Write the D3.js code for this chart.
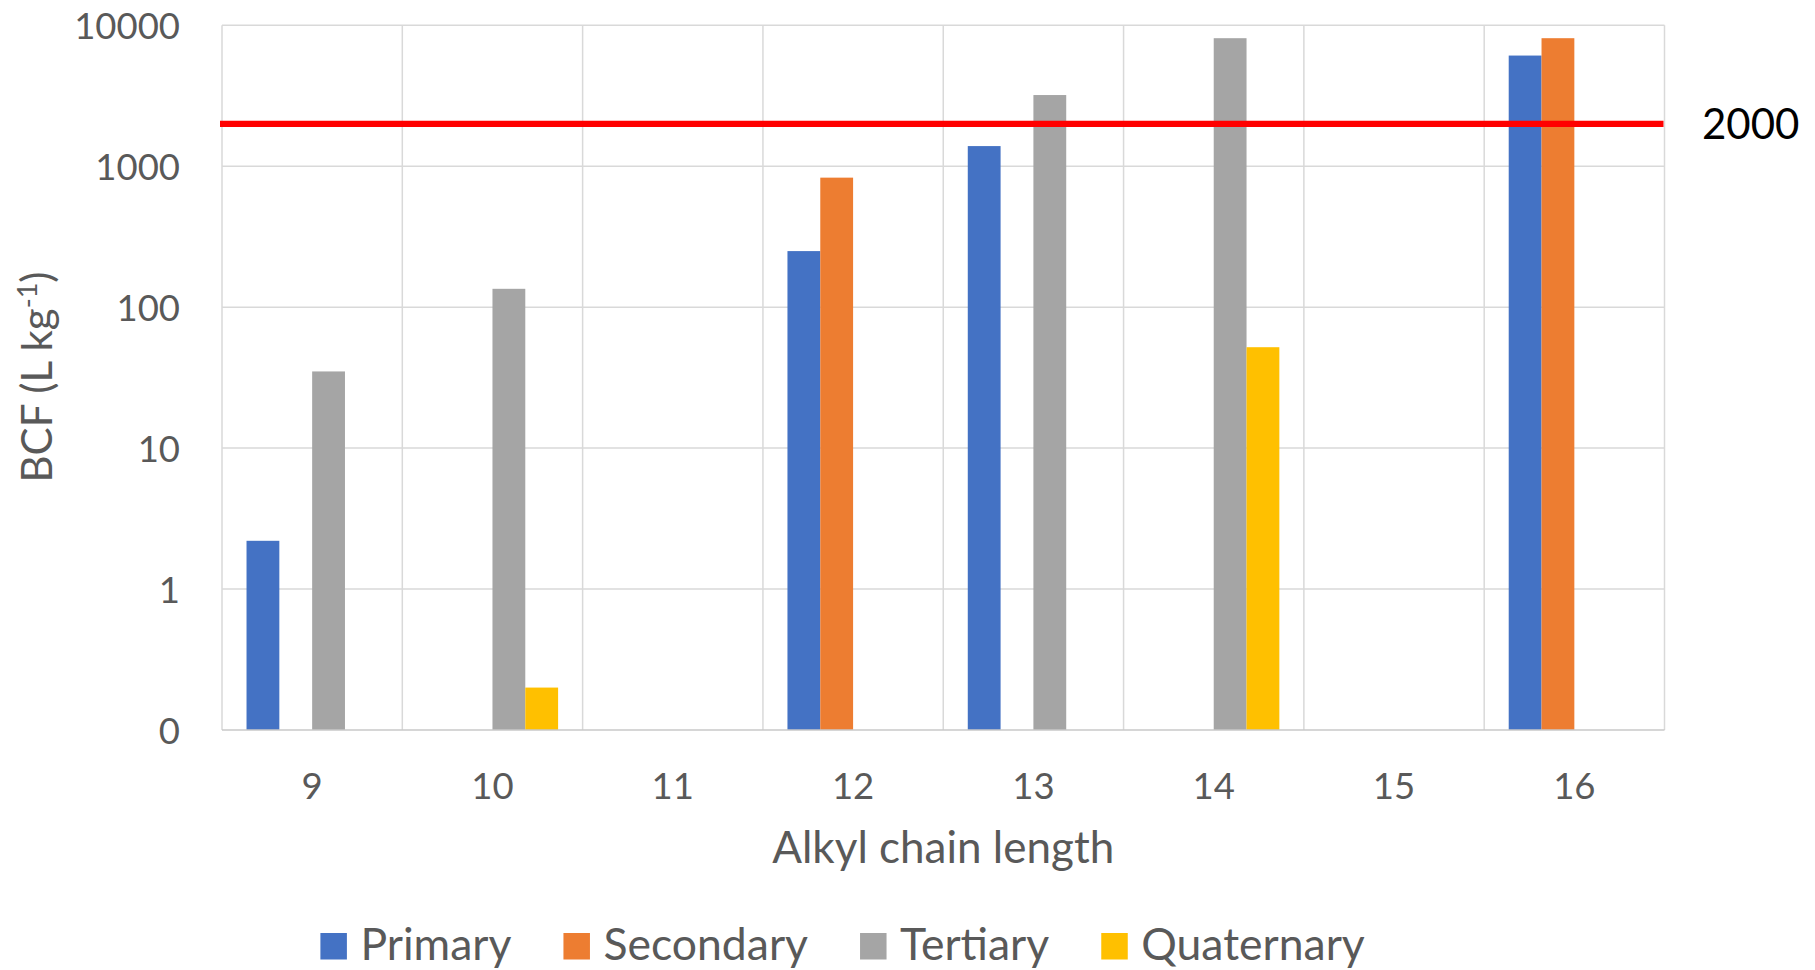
<!DOCTYPE html>
<html>
<head>
<meta charset="utf-8">
<script src="https://cdn.jsdelivr.net/npm/d3@7"></script>
<style>
  html, body { margin: 0; padding: 0; background: #ffffff; }
  svg { display: block; font-family: Lato, "Open Sans", sans-serif; }
</style>
</head>
<body>
<svg id="chart" width="1815" height="970"></svg>
<script>
// Alkyl chain length categories
const categories = ["9", "10", "11", "12", "13", "14", "15", "16"];

// Amine classes and their colours
const seriesNames = ["Primary", "Secondary", "Tertiary", "Quaternary"];
const seriesColors = ["#4472C4", "#ED7D31", "#A5A5A5", "#FFC000"];

// BCF values (L kg-1) per chain length; null = no data
const primary    = [2.2, null, null, 250, 1390, null, null, 6100];
const secondary  = [null, null, null, 830, null, null, null, 8100];
const tertiary   = [35, 135, null, null, 3200, 8100, null, null];
const quaternary = [null, 0.2, null, null, null, 52, null, null];

// Log axis ticks (the bottom of the axis is shown as "0")
const yTickValues = [0.1, 1, 10, 100, 1000, 10000];
const yTickLabels = ["0", "1", "10", "100", "1000", "10000"];

// Bioaccumulation threshold
const threshold = 2000;
const thresholdLabel = "2000";

const xTitle = "Alkyl chain length";

const seriesValues = [primary, secondary, tertiary, quaternary];
const rows = [];
categories.forEach((c, i) => {
  seriesNames.forEach((s, j) => {
    const v = seriesValues[j][i];
    if (v != null) rows.push({ cat: c, series: s, value: v, color: seriesColors[j] });
  });
});

const svg = d3.select("#chart");
const plot = { left: 222, right: 1664.5, top: 25.3, bottom: 730 };
const textColor = "#595959";

const x0 = d3.scaleBand().domain(categories).range([plot.left, plot.right]).padding(0);
const bw = x0.bandwidth();
const x1 = d3.scaleBand().domain(seriesNames).range([bw * 0.136, bw * 0.864]).padding(0);

const y = d3.scaleLog().domain([yTickValues[0], yTickValues[yTickValues.length - 1]])
  .range([plot.bottom, plot.top]);

// Horizontal gridlines
svg.append("g")
  .selectAll("line")
  .data(yTickValues.slice(1))
  .join("line")
  .attr("x1", plot.left).attr("x2", plot.right)
  .attr("y1", d => y(d)).attr("y2", d => y(d))
  .attr("stroke", "#D9D9D9").attr("stroke-width", 1.5);

// Vertical gridlines at category boundaries
const bounds = categories.map(c => x0(c)).concat([x0(categories[categories.length - 1]) + bw]);
svg.append("g")
  .selectAll("line")
  .data(bounds)
  .join("line")
  .attr("x1", d => d).attr("x2", d => d)
  .attr("y1", plot.top).attr("y2", plot.bottom)
  .attr("stroke", "#D9D9D9").attr("stroke-width", 1.5);

// Bars
svg.append("g")
  .selectAll("rect")
  .data(rows)
  .join("rect")
  .attr("x", d => x0(d.cat) + x1(d.series))
  .attr("width", x1.bandwidth())
  .attr("y", d => y(d.value))
  .attr("height", d => y(yTickValues[0]) - y(d.value))
  .attr("fill", d => d.color);

// Category axis line
svg.append("line")
  .attr("x1", plot.left).attr("x2", plot.right)
  .attr("y1", y(yTickValues[0])).attr("y2", y(yTickValues[0]))
  .attr("stroke", "#C8C8C8").attr("stroke-width", 1.5);

// Y axis labels
const yAxis = svg.append("g")
  .attr("transform", `translate(${plot.left},0)`)
  .call(d3.axisLeft(y).tickValues(yTickValues)
    .tickFormat((d, i) => yTickLabels[i]).tickSize(0).tickPadding(42));
yAxis.select(".domain").remove();
yAxis.selectAll("text")
  .attr("fill", textColor)
  .attr("font-family", "Lato")
  .attr("font-size", 36.5)
  .attr("dy", "0.36em");

// X axis labels
const xAxis = svg.append("g")
  .attr("transform", `translate(0,${plot.bottom})`)
  .call(d3.axisBottom(x0).tickSize(0));
xAxis.select(".domain").remove();
xAxis.selectAll("text")
  .attr("fill", textColor)
  .attr("font-family", "Lato")
  .attr("font-size", 36.5)
  .attr("y", 69)
  .attr("dy", 0);

// Axis titles
svg.append("text")
  .attr("x", (plot.left + plot.right) / 2)
  .attr("y", 863)
  .attr("text-anchor", "middle")
  .attr("fill", textColor)
  .attr("font-size", 44)
  .text(xTitle);

const yTitle = svg.append("text")
  .attr("transform", "translate(52,377) rotate(-90)")
  .attr("text-anchor", "middle")
  .attr("fill", textColor)
  .attr("font-size", 42);
yTitle.append("tspan").text("BCF (L kg");
yTitle.append("tspan").attr("font-size", 27).attr("dy", -15).text("-1");
yTitle.append("tspan").attr("dy", 15).text(")");

// Threshold line and label
svg.append("line")
  .attr("x1", plot.left - 2).attr("x2", plot.right - 1)
  .attr("y1", y(threshold)).attr("y2", y(threshold))
  .attr("stroke", "#FF0000").attr("stroke-width", 6.3);
svg.append("text")
  .attr("x", 1702)
  .attr("y", y(threshold))
  .attr("dy", "0.36em")
  .attr("fill", "#000000")
  .attr("font-size", 42)
  .text(thresholdLabel);

// Legend
const legend = svg.append("g");
const sq = 26.5, gapText = 13.5, gapItem = 52;
const items = legend.selectAll("g")
  .data(seriesNames)
  .join("g");
items.append("rect")
  .attr("width", sq).attr("height", sq)
  .attr("y", 933)
  .attr("fill", (d, i) => seriesColors[i]);
items.append("text")
  .attr("y", 960)
  .attr("fill", textColor)
  .attr("font-size", 44.5)
  .text(d => d);
let cursor = 0;
items.each(function () {
  const g = d3.select(this);
  const w = g.select("text").node().getComputedTextLength();
  g.select("rect").attr("x", cursor);
  g.select("text").attr("x", cursor + sq + gapText);
  cursor += sq + gapText + w + gapItem;
});
const total = cursor - gapItem;
legend.attr("transform", `translate(${842.6 - total / 2},0)`);
</script>
</body>
</html>
